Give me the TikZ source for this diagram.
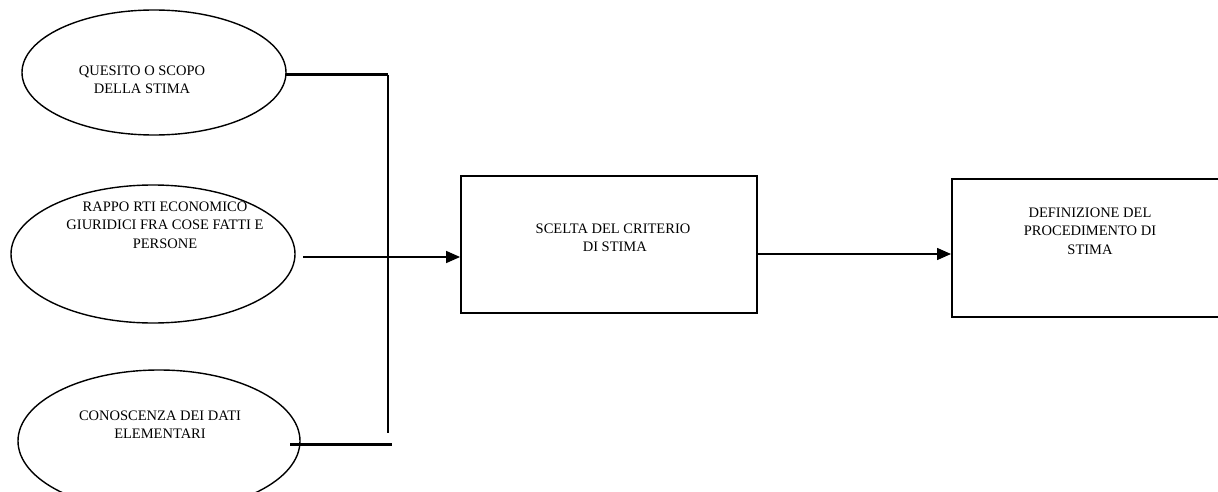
\documentclass[tikz,border=0pt]{standalone}
\usepackage{fontspec}
\setmainfont{Liberation Serif}
\usetikzlibrary{arrows.meta}
\usetikzlibrary{shapes.geometric}
\tikzset{
  oval/.style = {draw, ellipse, line width = 1.4pt, inner sep = 0pt},
  blk/.style = {draw, rectangle, line width = 1.8pt, inner sep = 0pt},
  lbl/.style = {align = center, inner sep = 0pt,
    font = \fontsize{14.5}{18.3}\selectfont},
  link/.style = {line width = 1.4pt},
  heavy/.style = {line width = 3pt},
  flow/.style = {line width = 1.4pt, -{Triangle[length = 14pt, width = 12pt]}}
}

\begin{document}
\begin{tikzpicture}[x = 1pt, y = -1pt]
  \useasboundingbox (0, 0) rectangle (1218, 492);

  \node[oval, minimum width = 264pt, minimum height = 125pt] (quesito) at (154, 72.5) {};
  \node[oval, minimum width = 284pt, minimum height = 138pt] (rapporti) at (153, 254) {};
  \node[oval, minimum width = 282pt, minimum height = 142pt] (dati) at (159, 441) {};

  \node[blk, minimum width = 296pt, minimum height = 137pt] (criterio) at (609, 244.5) {};
  \node[blk, minimum width = 290pt, minimum height = 138pt, anchor = west] (procedimento) at (951, 248) {};

  \node[lbl] (tquesito) at (142, 80) {QUESITO O SCOPO\\DELLA STIMA};
  \node[lbl] (trapporti) at (165, 225) {RAPPO\kern4pt RTI ECONOMICO\\GIURIDICI FRA COSE FATTI E\\PERSONE};
  \node[lbl] (tdati) at (160, 425) {CONOSCENZA DEI DATI\\ELEMENTARI};
  \node[lbl] (tcriterio) at (613, 238) {SCELTA DEL CRITERIO\\\ DI STIMA};
  \node[lbl] (tprocedimento) at (1090, 231) {DEFINIZIONE DEL\\PROCEDIMENTO DI\\STIMA};

  % collector line on the left
  \coordinate (busT) at (388, 75);
  \coordinate (busB) at (388, 433);
  \coordinate (quesitoR) at (286, 75);
  \coordinate (datiR) at (290, 444);
  \coordinate (datiE) at (392, 444);
  \coordinate (rapportiR) at (303, 257);

  \draw[heavy] (quesitoR) -- (busT);
  \draw[link] (busT) -- (busB);
  \draw[heavy] (datiR) -- (datiE);

  \draw[flow] (rapportiR) -- (rapportiR -| criterio.west);
  \draw[flow] (criterio.east |- 0, 254) -- (procedimento.west |- 0, 254);
\end{tikzpicture}
\end{document}
